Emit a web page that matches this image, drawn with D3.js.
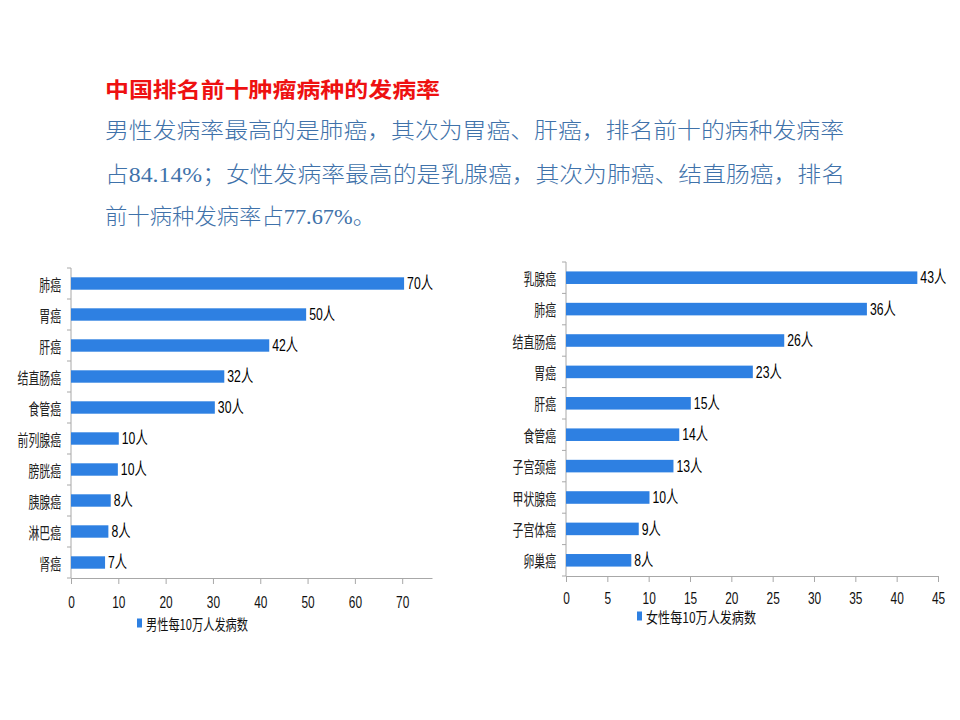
<!DOCTYPE html>
<html>
<head>
<meta charset="utf-8">
<script src="https://cdn.jsdelivr.net/npm/d3@7"></script>
<style>
  html, body { margin: 0; padding: 0; background: #fff; }
</style>
</head>
<body>
<script>
// 标题与说明文字
var titleText = "中国排名前十肿瘤病种的发病率";
var bodyLines = [
  "男性发病率最高的是肺癌，其次为胃癌、肝癌，排名前十的病种发病率",
  "占84.14%；女性发病率最高的是乳腺癌，其次为肺癌、结直肠癌，排名",
  "前十病种发病率占77.67%。"
];

// 男性数据
var maleCats = ["肺癌", "胃癌", "肝癌", "结直肠癌", "食管癌", "前列腺癌", "膀胱癌", "胰腺癌", "淋巴癌", "肾癌"];
var maleVals = [70.4, 49.7, 41.9, 32.4, 30.4, 10.1, 9.9, 8.4, 7.9, 7.2];
var maleTicks = [0, 10, 20, 30, 40, 50, 60, 70];
var maleLegend = "男性每10万人发病数";

// 女性数据
var femaleCats = ["乳腺癌", "肺癌", "结直肠癌", "胃癌", "肝癌", "食管癌", "子宫颈癌", "甲状腺癌", "子宫体癌", "卵巢癌"];
var femaleVals = [42.5, 36.4, 26.4, 22.6, 15.1, 13.7, 13.0, 10.1, 8.8, 7.9];
var femaleTicks = [0, 5, 10, 15, 20, 25, 30, 35, 40, 45];
var femaleLegend = "女性每10万人发病数";

var svg = d3.select("body").append("svg")
  .attr("width", 960)
  .attr("height", 720);

var cjk = "'Noto Sans CJK SC', sans-serif";
var narrow = "'Liberation Sans', 'Noto Sans CJK SC', sans-serif";

//标题
svg.append("text")
  .attr("x", 105)
  .attr("y", 88)
  .attr("dominant-baseline", "central")
  .attr("textLength", 335)
  .attr("lengthAdjust", "spacingAndGlyphs")
  .style("font-family", cjk)
  .style("font-weight", "bold")
  .style("font-size", "21px")
  .attr("fill", "#ee1111")
  .text(titleText);

//说明文字
var lineY = [130, 174, 216];
var lineW = [739, 740, 270];
svg.selectAll("text.body")
  .data(bodyLines)
  .enter().append("text")
  .attr("class", "body")
  .attr("x", 105)
  .attr("y", function(d, i) { return lineY[i]; })
  .attr("dominant-baseline", "central")
  .attr("textLength", function(d, i) { return lineW[i]; })
  .attr("lengthAdjust", "spacingAndGlyphs")
  .style("font-family", "'Liberation Serif', 'Noto Sans CJK SC', serif")
  .style("font-size", "22px")
  .style("font-weight", "300")
  .attr("fill", "#3f72aa")
  .text(function(d) { return d; });

function drawChart(cfg) {
  var x = d3.scaleLinear().domain([0, cfg.xMax]).range([cfg.left, cfg.right]);
  var y = d3.scaleBand().domain(cfg.cats).range([cfg.top, cfg.bottom])
    .paddingInner(0.6).paddingOuter(0.3);
  var band = (cfg.bottom - cfg.top) / cfg.cats.length;
  var g = svg.append("g");

  //纵轴及分隔刻度
  g.append("line")
    .attr("x1", cfg.left).attr("x2", cfg.left)
    .attr("y1", cfg.top).attr("y2", cfg.bottom)
    .attr("stroke", "#a8a8a8");
  g.selectAll("line.ytick")
    .data(d3.range(cfg.cats.length + 1))
    .enter().append("line")
    .attr("class", "ytick")
    .attr("x1", cfg.left - 4).attr("x2", cfg.left)
    .attr("y1", function(i) { return cfg.top + i * band; })
    .attr("y2", function(i) { return cfg.top + i * band; })
    .attr("stroke", "#a8a8a8");

  //横轴
  var xAxis = d3.axisBottom(x).tickValues(cfg.ticks).tickSize(6).tickSizeOuter(0);
  var ax = g.append("g")
    .attr("transform", "translate(0," + cfg.bottom + ")")
    .call(xAxis);
  ax.select(".domain").attr("stroke", "#a8a8a8");
  ax.selectAll(".tick line").attr("stroke", "#a8a8a8");
  ax.selectAll(".tick text")
    .attr("y", cfg.tickDy)
    .attr("dy", "0.35em")
    .attr("transform", "scale(0.7,1)")
    .style("font-family", narrow)
    .style("font-size", "17px")
    .attr("fill", "#111");

  //柱子
  g.selectAll("rect.bar")
    .data(cfg.vals)
    .enter().append("rect")
    .attr("class", "bar")
    .attr("x", x(0))
    .attr("y", function(d, i) { return y(cfg.cats[i]); })
    .attr("width", function(d) { return x(d) - x(0); })
    .attr("height", y.bandwidth())
    .attr("fill", "#2e80e2");

  //数值标签，横向压窄
  g.selectAll("text.val")
    .data(cfg.vals)
    .enter().append("text")
    .attr("class", "val")
    .attr("transform", function(d, i) {
      return "translate(" + (x(d) + 3) + "," + (y(cfg.cats[i]) + y.bandwidth() / 2) + ") scale(0.72,1)";
    })
    .attr("dominant-baseline", "central")
    .style("font-family", narrow)
    .style("font-size", "17px")
    .attr("fill", "#000")
    .text(function(d) { return Math.round(d) + "人"; });

  //类别标签，横向压窄
  g.selectAll("text.cat")
    .data(cfg.cats)
    .enter().append("text")
    .attr("class", "cat")
    .attr("transform", function(d) {
      return "translate(" + (cfg.left - 10) + "," + (y(d) + y.bandwidth() / 2) + ") scale(0.68,1)";
    })
    .attr("text-anchor", "end")
    .attr("dominant-baseline", "central")
    .style("font-family", cjk)
    .style("font-size", "16px")
    .attr("fill", "#222")
    .text(function(d) { return d; });

  //图例
  g.append("rect")
    .attr("x", cfg.legendX)
    .attr("y", cfg.legendY - 4.5)
    .attr("width", 5)
    .attr("height", 9)
    .attr("fill", "#2e80e2");
  g.append("text")
    .attr("x", cfg.legendX + 9)
    .attr("y", cfg.legendY)
    .attr("dominant-baseline", "central")
    .attr("textLength", cfg.legendW)
    .attr("lengthAdjust", "spacingAndGlyphs")
    .style("font-family", cjk)
    .style("font-size", "15px")
    .attr("fill", "#111")
    .text(cfg.legend);
}

drawChart({
  cats: maleCats, vals: maleVals, ticks: maleTicks, legend: maleLegend,
  xMax: 76.3, left: 71, right: 432, top: 268, bottom: 578,
  tickDy: 24, legendX: 137, legendY: 623, legendW: 102
});

drawChart({
  cats: femaleCats, vals: femaleVals, ticks: femaleTicks, legend: femaleLegend,
  xMax: 45, left: 566, right: 938, top: 262, bottom: 576,
  tickDy: 22, legendX: 637, legendY: 616, legendW: 110
});
</script>
</body>
</html>
